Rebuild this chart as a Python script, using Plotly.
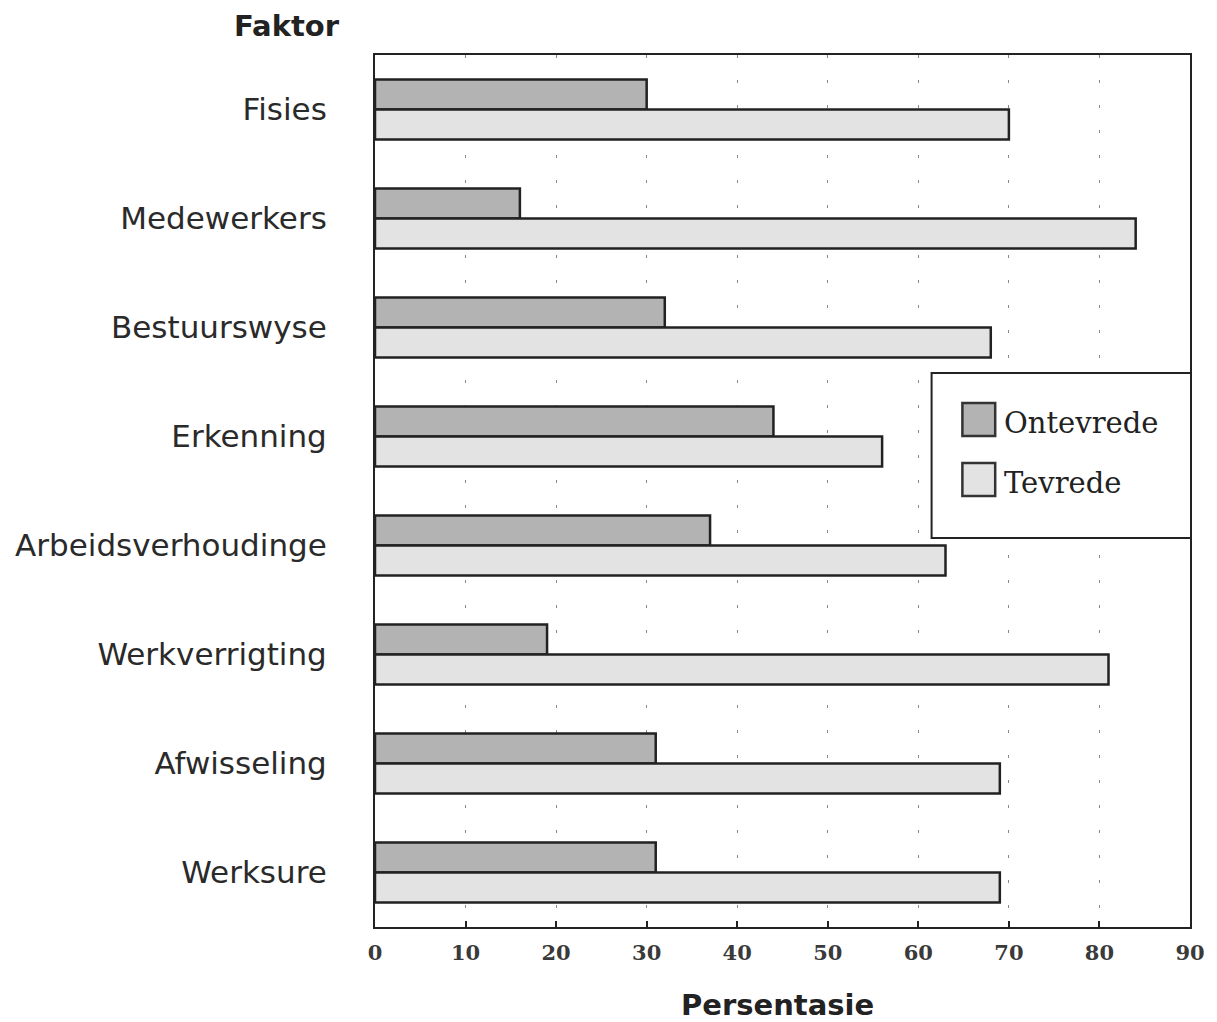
import plotly.graph_objects as go

categories = ["Fisies", "Medewerkers", "Bestuurswyse", "Erkenning",
              "Arbeidsverhoudinge", "Werkverrigting", "Afwisseling", "Werksure"]
ontevrede = [30, 16, 32, 44, 37, 19, 31, 31]
tevrede = [70, 84, 68, 56, 63, 81, 69, 69]
series_names = ["Ontevrede", "Tevrede"]
series_colors = ["#b3b3b3", "#e3e3e3"]
x_ticks = [0, 10, 20, 30, 40, 50, 60, 70, 80, 90]

fig = go.Figure()
for name, vals, col in zip(series_names, [ontevrede, tevrede], series_colors):
    fig.add_trace(go.Bar(
        y=categories, x=vals, name=name, orientation="h",
        marker=dict(color=col, line=dict(color="#222222", width=2.5)),
        showlegend=False,
    ))

fig.update_layout(
    width=1217, height=1022,
    margin=dict(l=375, r=22, t=55, b=95),
    paper_bgcolor="white", plot_bgcolor="white",
    barmode="group", bargap=0.45, bargroupgap=0,
    font=dict(family="DejaVu Sans", color="#222222"),
)

fig.update_xaxes(
    range=[0, 90], tickvals=x_ticks, ticktext=[str(v) for v in x_ticks],
    tickfont=dict(family="DejaVu Serif", size=21, color="#3a3a3a", weight="bold"),
    ticks="inside", ticklen=6, tickwidth=1.5, tickcolor="#222222",
    showline=True, linecolor="#222222", linewidth=2, mirror=True,
    showgrid=True, gridcolor="#888888", gridwidth=1.2, griddash="3px,22px",
    zeroline=False, ticklabelstandoff=6,
)
fig.update_yaxes(
    categoryorder="array", categoryarray=categories, autorange="reversed",
    tickfont=dict(family="DejaVu Sans", size=31, color="#2a2a2a"),
    showline=True, linecolor="#222222", linewidth=2, mirror=True,
    showgrid=False, ticks="", ticklabelstandoff=40,
)


def px_x(v):
    return (v - 375) / 820


def px_y(v):
    return (927 - v) / 872


# Axis titles
fig.add_annotation(text="<b>Faktor</b>", xref="paper", yref="paper",
                   x=px_x(286), y=px_y(26), xanchor="center", yanchor="middle",
                   showarrow=False, font=dict(family="DejaVu Sans", size=29, color="#222222"))
fig.add_annotation(text="<b>Persentasie</b>", xref="paper", yref="paper",
                   x=px_x(780), y=px_y(1005), xanchor="center", yanchor="middle",
                   showarrow=False, font=dict(family="DejaVu Sans", size=29, color="#222222"))

# Custom legend
fig.add_shape(type="rect", xref="paper", yref="paper",
              x0=px_x(935), x1=px_x(1196), y0=px_y(538), y1=px_y(373),
              fillcolor="white", line=dict(color="#222222", width=2), layer="above")
for i, (name, col) in enumerate(zip(series_names, series_colors)):
    top = 403 + i * 60
    fig.add_shape(type="rect", xref="paper", yref="paper",
                  x0=px_x(966), x1=px_x(999), y0=px_y(top + 33), y1=px_y(top),
                  fillcolor=col, line=dict(color="#333333", width=2.5), layer="above")
    fig.add_annotation(text=name, xref="paper", yref="paper",
                       x=px_x(1006), y=px_y(top + 20), xanchor="left", yanchor="middle",
                       showarrow=False,
                       font=dict(family="DejaVu Serif", size=29, color="#222222"))

fig.write_html("out.html")
